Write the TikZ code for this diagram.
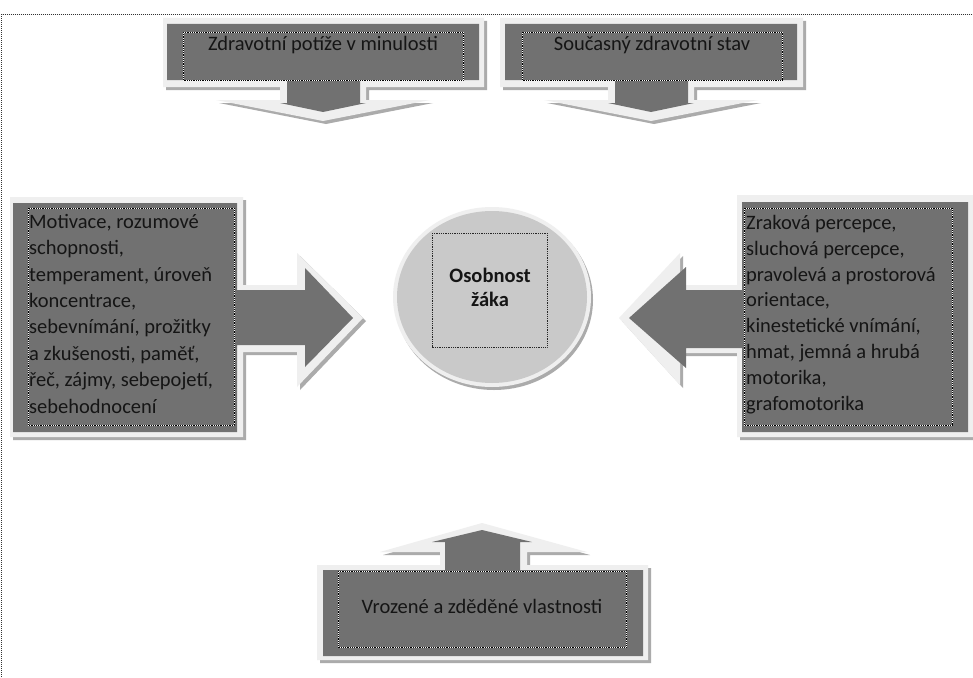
\documentclass[tikz,border=0pt]{standalone}
\usepackage{fontspec}
\setmainfont{Carlito}
\definecolor{darkfill}{HTML}{717171}
\definecolor{lightframe}{HTML}{EFEFEF}
\definecolor{shadowgray}{HTML}{ABABAB}
\definecolor{circfill}{HTML}{C9C9C9}
\definecolor{txt}{HTML}{151515}
\newcommand{\mycallout}[2]{%
  \fill[shadowgray,shift={(3,3)}] #1;
  \fill[lightframe] #1;
  \fill[darkfill] #2;
}
\tikzset{
  dotbox/.style={draw=white, line width=0.9pt,
     postaction={draw=black, line width=0.9pt, dash pattern=on 0.9pt off 0.9pt}},
  circdot/.style={draw=black!85, line width=0.9pt, dash pattern=on 0.9pt off 0.9pt},
  framedot/.style={draw=black!80, line width=0.8pt, dash pattern=on 1pt off 1pt},
  lbl/.style={inner sep=0pt, text=txt, font=\fontsize{20.5}{26.2}\selectfont},
}
\begin{document}
\begin{tikzpicture}[x=1pt,y=-1pt]
\useasboundingbox (0,0) rectangle (973,677);
\fill[white] (0,0) rectangle (973,677);

% outer dotted frame
\draw[framedot] (1.5,677) -- (1.5,14) -- (973,14);

% top-left callout
\mycallout{(163,18) -- (484,18) -- (484,87) -- (366,87) -- (366,100) -- (430,100) -- (323,121) -- (216,100) -- (280,100) -- (280,87) -- (163,87) -- cycle}
          {(167,24) -- (479,24) -- (479,80) -- (360,80) -- (360,103) -- (366,103) -- (323,112) -- (280,103) -- (287,103) -- (287,80) -- (167,80) -- cycle}
\draw[dotbox] (183,32) rectangle (463,80);
\node[lbl, anchor=base] (past) at (323,51) {Zdravotní potíže v minulosti};

% top-right callout
\mycallout{(500,18) -- (803,18) -- (803,87) -- (694,87) -- (694,100) -- (758,100) -- (651,121) -- (544,100) -- (608,100) -- (608,87) -- (500,87) -- cycle}
          {(505,24) -- (797,24) -- (797,80) -- (688,80) -- (688,103) -- (694,103) -- (651,112) -- (608,103) -- (615,103) -- (615,80) -- (505,80) -- cycle}
\draw[dotbox] (522,32) rectangle (782,80);
\node[lbl, anchor=base] (now) at (652,51) {Současný zdravotní stav};

% left callout
\mycallout{(10,197) -- (243,197) -- (243,285) -- (297,285) -- (297,253) -- (363,318) -- (297,387) -- (297,352) -- (243,352) -- (243,437) -- (10,437) -- cycle}
          {(13,203) -- (237,203) -- (237,290) -- (305,290) -- (305,268) -- (353,318) -- (305,367) -- (305,345) -- (237,345) -- (237,432) -- (13,432) -- cycle}
\draw[dotbox] (28,208) rectangle (234,425);
\node[lbl, anchor=north west, align=left, font=\fontsize{20.5}{26.4}\selectfont] (inner) at (29,210)
  {\rule{0pt}{18pt}Motivace, rozumové\\schopnosti,\\temperament, úroveň\\koncentrace,\\sebevnímání, prožitky\\a zkušenosti, paměť,\\řeč, zájmy, sebepojetí,\\sebehodnocení};

% right callout
\mycallout{(737,195) -- (976,195) -- (976,437) -- (737,437) -- (737,353) -- (680,353) -- (680,385) -- (619,318) -- (680,253) -- (680,285) -- (737,285) -- cycle}
          {(742,202) -- (968,202) -- (968,432) -- (742,432) -- (742,348) -- (686,348) -- (686,368) -- (629,318) -- (686,267) -- (686,290) -- (742,290) -- cycle}
\draw[dotbox] (744,208) rectangle (952,425);
\node[lbl, anchor=north west, align=left, font=\fontsize{20.5}{25.9}\selectfont] (senses) at (746,211)
  {\rule{0pt}{18pt}Zraková percepce,\\sluchová percepce,\\pravolevá a prostorová\\orientace,\\kinestetické vnímání,\\hmat, jemná a hrubá\\motorika,\\grafomotorika};

% bottom callout
\mycallout{(317,565) -- (440,565) -- (440,552) -- (380,552) -- (482,523) -- (587,552) -- (527,552) -- (527,565) -- (648,565) -- (648,660) -- (317,660) -- cycle}
          {(323,570) -- (445,570) -- (445,542) -- (432,542) -- (482,530) -- (532,542) -- (520,542) -- (520,570) -- (643,570) -- (643,656) -- (323,656) -- cycle}
\draw[dotbox] (338,571) rectangle (626,647);
\node[lbl, anchor=base] (innate) at (482,613) {Vrozené a zděděné vlastnosti};

% centre circle
\fill[shadowgray] (494,300) ellipse [x radius=99, y radius=90];
\fill[lightframe] (492,297) ellipse [x radius=99, y radius=90];
\fill[circfill] (492,297) ellipse [x radius=95, y radius=86];
\draw[circdot] (432,233) rectangle (547,347);
\node[lbl, anchor=base, align=center, font=\fontsize{20.5}{24.5}\selectfont\bfseries] (pupil) at (490,282) {Osobnost};
\node[lbl, anchor=base, font=\fontsize{20.5}{24.5}\selectfont\bfseries] (pupil2) at (490,306) {žáka};
\end{tikzpicture}
\end{document}
